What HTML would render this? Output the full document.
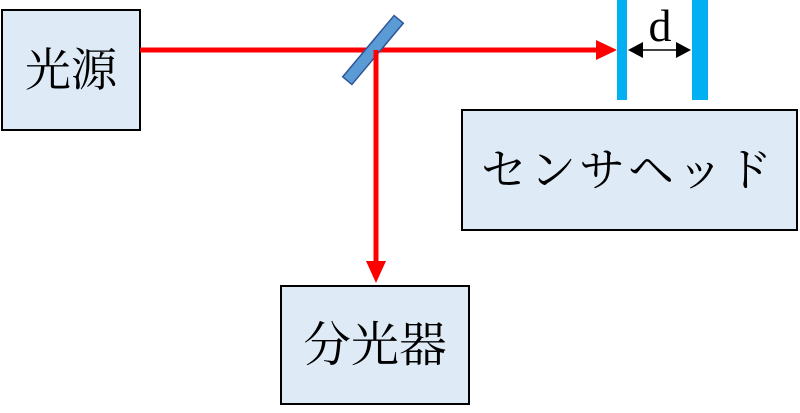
<!DOCTYPE html>
<html><head><meta charset="utf-8"><style>
html,body{margin:0;padding:0;background:#fff;width:800px;height:413px;overflow:hidden}
text{font-family:"Liberation Serif","Noto Serif CJK JP","Noto Serif CJK SC",serif;fill:#000}
</style></head><body>
<svg width="800" height="413" viewBox="0 0 800 413" xmlns="http://www.w3.org/2000/svg">
<rect x="2" y="10" width="138" height="120" fill="#deeaf6" stroke="#000" stroke-width="2"/>
<text x="71" y="86" font-size="46" text-anchor="middle">光源</text>
<rect x="462" y="110" width="335" height="120" fill="#deeaf6" stroke="#000" stroke-width="2"/>
<text x="628" y="186" font-size="46" text-anchor="middle" letter-spacing="3">センサヘッド</text>
<rect x="281" y="286" width="188" height="118" fill="#deeaf6" stroke="#000" stroke-width="2"/>
<text x="375" y="361" font-size="48" text-anchor="middle">分光器</text>
<line x1="140" y1="50" x2="596" y2="50" stroke="#ff0000" stroke-width="5"/>
<polygon points="617,50 596,40 596,60" fill="#ff0000"/>
<g transform="translate(373,50) rotate(-50)">
<rect x="-40" y="-6" width="80" height="12" fill="#5b9bd5" stroke="#2f5597" stroke-width="1.5"/>
</g>
<line x1="376" y1="50" x2="376" y2="262" stroke="#ff0000" stroke-width="5"/>
<polygon points="376,283 366,261 386,261" fill="#ff0000"/>
<rect x="617" y="0" width="10" height="100" fill="#00b0f0"/>
<rect x="692" y="0" width="16" height="100" fill="#00b0f0"/>
<line x1="640" y1="50" x2="679" y2="50" stroke="#000" stroke-width="1.5"/>
<polygon points="628,50 643,42 643,58" fill="#000"/>
<polygon points="691,50 676,42 676,58" fill="#000"/>
<text x="660" y="41" font-size="46" text-anchor="middle">d</text>
</svg>
</body></html>
